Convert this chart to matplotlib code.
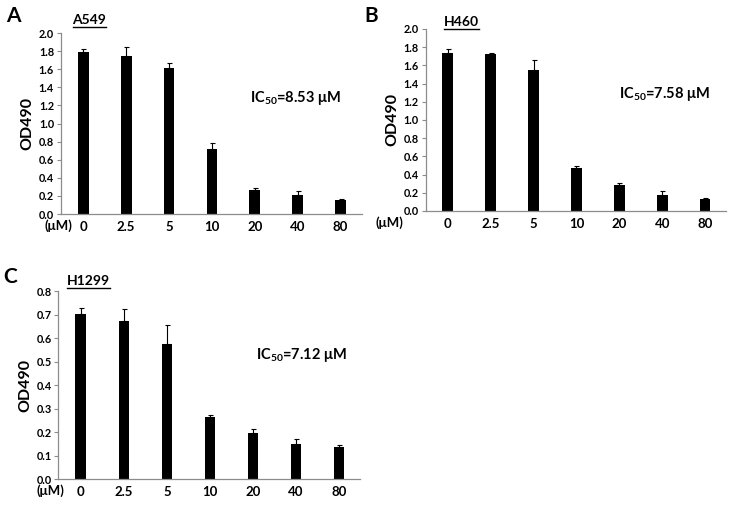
import matplotlib
matplotlib.use('Agg')
import matplotlib.pyplot as plt
from matplotlib.lines import Line2D
import numpy as np

plt.rcParams['font.family'] = ['Lato', 'DejaVu Sans']
plt.rcParams['mathtext.fontset'] = 'custom'
plt.rcParams['mathtext.rm'] = 'Lato:bold'
plt.rcParams['mathtext.it'] = 'Lato:bold'
plt.rcParams['mathtext.bf'] = 'Lato:bold'

concentrations = ['0', '2.5', '5', '10', '20', '40', '80']
unit_label = '(μM)'

a549_mean = [1.79, 1.75, 1.61, 0.72, 0.26, 0.21, 0.15]
a549_err = [0.03, 0.10, 0.06, 0.06, 0.03, 0.04, 0.012]
h460_mean = [1.74, 1.72, 1.55, 0.47, 0.285, 0.175, 0.135]
h460_err = [0.035, 0.02, 0.11, 0.028, 0.025, 0.04, 0.008]
h1299_mean = [0.702, 0.672, 0.574, 0.264, 0.194, 0.149, 0.136]
h1299_err = [0.026, 0.053, 0.080, 0.007, 0.019, 0.020, 0.009]

cell_lines = ['A549', 'H460', 'H1299']
ic50_labels = ['8.53', '7.58', '7.12']
panel_letters = ['A', 'B', 'C']

fig = plt.figure(figsize=(7.33, 5.11), dpi=100)

panels = [
    dict(rect=[0.0832, 0.5812, 0.4106, 0.3542], mean=a549_mean, err=a549_err,
         ymax=2.0, ystep=0.2, unit_x=-0.58, ic_pos=(3.9, 1.28),
         letter_pos=(0.008, 0.988), title_pos=(0.099, 0.972)),
    dict(rect=[0.5805, 0.5871, 0.4106, 0.3562], mean=h460_mean, err=h460_err,
         ymax=2.0, ystep=0.2, unit_x=-1.37, ic_pos=(4.0, 1.29),
         letter_pos=(0.497, 0.988), title_pos=(0.606, 0.968)),
    dict(rect=[0.0798, 0.0626, 0.412, 0.3679], mean=h1299_mean, err=h1299_err,
         ymax=0.8, ystep=0.1, unit_x=-0.70, ic_pos=(4.07, 0.528),
         letter_pos=(0.004, 0.478), title_pos=(0.091, 0.461)),
]

spine_color = '#8c8c8c'
texts_to_underline = []

for i, p in enumerate(panels):
    ax = fig.add_axes(p['rect'])
    x = np.arange(len(concentrations))
    ax.bar(x, p['mean'], width=0.25, color='black', zorder=2)
    ax.errorbar(x, p['mean'], yerr=[np.zeros(len(x)), p['err']], fmt='none',
                ecolor='black', elinewidth=0.8, capsize=1.8, capthick=0.8, zorder=3)
    ax.set_xlim(-0.52, 6.5)
    ax.set_ylim(0, p['ymax'])
    ticks = np.round(np.arange(0, p['ymax'] + 1e-9, p['ystep']), 2)
    ax.set_yticks(ticks)
    ax.set_yticklabels([f'{t:.1f}' for t in ticks], fontsize=7.8, fontweight='bold')
    ax.set_xticks(x)
    ax.set_xticklabels(concentrations, fontsize=9.5, fontweight='bold')
    ax.tick_params(axis='x', length=0, pad=5)
    ax.tick_params(axis='y', length=3, width=0.8, color=spine_color, pad=2)
    for s in ['top', 'right']:
        ax.spines[s].set_visible(False)
    for s in ['left', 'bottom']:
        ax.spines[s].set_color(spine_color)
        ax.spines[s].set_linewidth(0.9)
    ax.set_ylabel('OD490', fontsize=11.5, fontweight='bold', labelpad=3)
    ax.text(p['unit_x'], -0.028, unit_label, transform=ax.get_xaxis_transform(),
            ha='center', va='top', fontsize=9.5, fontweight='bold', clip_on=False)
    ax.text(p['ic_pos'][0], p['ic_pos'][1],
            r'IC$_{50}$=' + ic50_labels[i] + ' μM',
            ha='left', va='center', fontsize=10.5, fontweight='bold')
    fig.text(p['letter_pos'][0], p['letter_pos'][1], panel_letters[i],
             ha='left', va='top', fontsize=15, fontweight='bold')
    t = fig.text(p['title_pos'][0], p['title_pos'][1], cell_lines[i],
                 ha='left', va='top', fontsize=10, fontweight='bold')
    texts_to_underline.append(t)

fig.canvas.draw()
renderer = fig.canvas.get_renderer()
W, H = fig.bbox.width, fig.bbox.height
for t in texts_to_underline:
    bb = t.get_window_extent(renderer)
    y = (bb.y0 - 0.5) / H
    fig.add_artist(Line2D([bb.x0 / W, bb.x1 / W], [y, y], transform=fig.transFigure,
                          color='black', linewidth=1.0))

fig.savefig('out.png', dpi=100)
